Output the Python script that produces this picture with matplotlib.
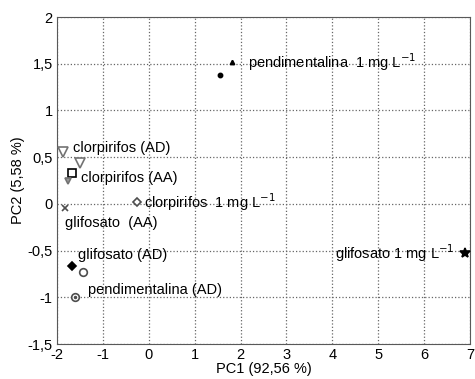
import matplotlib
matplotlib.use('Agg')
import matplotlib.pyplot as plt

plt.rcParams['font.family'] = ['Liberation Sans', 'DejaVu Sans']
plt.rcParams['axes.unicode_minus'] = False

# scores (PC1, PC2)
pc1 = [1.81, 1.55, -1.87, -1.50, -1.67, -1.76, -0.26, -1.83, -1.67, -1.43, -1.61, 6.89]
pc2 = [1.52, 1.38, 0.55, 0.44, 0.33, 0.25, 0.02, -0.04, -0.66, -0.73, -1.00, -0.53]
markers = ['^', 'o', 'v', 'v', 's', 'v', 'D', 'x', 'D', 'o', 'o', '*']
faces = ['k', 'k', 'white', 'white', 'white', '0.6', 'white', 'k', 'k', 'white', 'white', 'k']
edges = ['k', 'k', '0.45', '0.45', 'k', '0.45', '0.3', '0.3', 'k', '0.3', '0.3', 'k']
sizes = [3, 3, 6.5, 6.5, 5.5, 5, 4.5, 4, 4.5, 5.5, 5.5, 7]

labels = ['pendimentalina  1 mg L$^{-1}$', 'clorpirifos (AD)', 'clorpirifos (AA)',
          'clorpirifos  1 mg L$^{-1}$', 'glifosato  (AA)', 'glifosato (AD)',
          'pendimentalina (AD)', 'glifosato 1 mg L$^{-1}$']
label_x = [2.16, -1.65, -1.48, -0.10, -1.83, -1.54, -1.32, 4.05]
label_y = [1.52, 0.60, 0.28, 0.02, -0.20, -0.55, -0.92, -0.53]

xticks = list(range(-2, 8))
yticks = [-1.5, -1, -0.5, 0, 0.5, 1, 1.5, 2]
ytick_labels = ['-1,5', '-1', '-0,5', '0', '0,5', '1', '1,5', '2']

fig = plt.figure(figsize=(4.75, 3.79), dpi=100)
ax = fig.add_axes([57/475, 1-344/379, 413/475, 327/379])

for i in range(len(pc1)):
    ax.plot(pc1[i], pc2[i], marker=markers[i], linestyle='none', ms=sizes[i],
            mfc=faces[i], mec=edges[i], mew=1.2, zorder=3)
ax.plot(-1.61, -1.0, marker='.', ms=3, color='0.3', zorder=4)

for t, x, y in zip(labels, label_x, label_y):
    ax.text(x, y, t, fontsize=10.5, va='center', ha='left')

ax.set_xlim(-2, 7)
ax.set_ylim(-1.5, 2)
ax.set_xticks(xticks)
ax.set_yticks(yticks)
ax.set_yticklabels(ytick_labels)
ax.tick_params(labelsize=10.5, length=0, pad=3)
ax.grid(True, linestyle=':', color='0.4', linewidth=0.9)
for s in ax.spines.values():
    s.set_color('0.35')
ax.set_xlabel('PC1 (92,56 %)', fontsize=10.5, labelpad=0)
ax.set_ylabel('PC2 (5,58 %)', fontsize=10.5, labelpad=2)

fig.savefig('out.png', dpi=100)
